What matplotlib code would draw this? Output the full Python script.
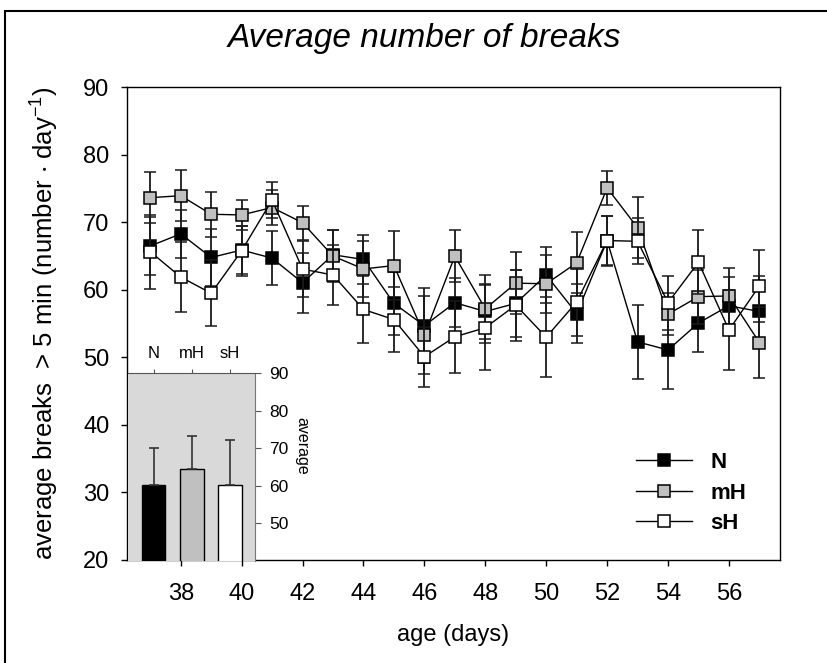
import numpy as np
import matplotlib
matplotlib.use('Agg')
import matplotlib.pyplot as plt
from matplotlib.lines import Line2D
from matplotlib.patches import Rectangle

plt.rcParams['font.family'] = ['Liberation Sans', 'DejaVu Sans']
plt.rcParams['mathtext.default'] = 'regular'

# age in days
days = np.arange(37, 58)

# mean breaks > 5 min per day and their SD, one list per group
N_mean = [66.5, 68.3, 64.8, 65.9, 64.7, 61.05, 65.2, 64.5, 58.0, 54.7, 58.1,
          56.8, 58.0, 62.2, 56.5, 67.3, 52.3, 51.1, 55.1, 57.65, 56.8]
N_sd = [4.3, 3.6, 4.2, 3.5, 4.0, 4.4, 3.6, 3.6, 4.7, 5.6, 3.6,
        4.1, 5.0, 4.2, 4.3, 3.6, 5.45, 5.85, 4.3, 4.3, 5.3]
mH_mean = [73.65, 73.95, 71.2, 71.1, 72.2, 69.94, 65.0, 63.1, 63.6, 53.3, 65.0,
           57.2, 61.0, 60.9, 64.0, 75.1, 69.2, 56.4, 59.0, 59.1, 52.2]
mH_sd = [3.75, 3.8, 3.3, 2.2, 2.6, 2.5, 3.9, 4.1, 5.1, 5.8, 3.9,
         5.0, 4.55, 4.3, 4.5, 2.5, 4.55, 3.1, 4.0, 4.2, 5.2]
sH_mean = [65.65, 61.9, 59.5, 65.8, 73.3, 63.08, 62.2, 57.1, 55.6, 50.1, 53.05,
           54.4, 57.75, 53.0, 58.2, 67.3, 67.2, 58.1, 64.1, 54.05, 60.6]
sH_sd = [5.5, 5.2, 4.9, 3.7, 2.7, 4.1, 4.5, 5.0, 4.8, 4.45, 5.3,
         6.3, 5.25, 5.9, 5.0, 3.7, 3.4, 4.0, 4.7, 5.95, 5.3]

groups = ['N', 'mH', 'sH']
avg_sd = [9.7, 8.6, 12.0]   # SD of the overall average per group

face = ['black', '#c0c0c0', 'white']
means = [N_mean, mH_mean, sH_mean]
sds = [N_sd, mH_sd, sH_sd]

fig = plt.figure(figsize=(8.28, 6.63), dpi=100)
fig.patches.append(Rectangle((0.006, -0.1), 1.2, 0.1 + 0.983, fill=False,
                             lw=1.5, ec='black', transform=fig.transFigure))

ax = fig.add_axes([0.1528, 0.1554, 0.789, 0.7129])
handles = []
for i, g in enumerate(groups):
    ax.errorbar(days, means[i], yerr=sds[i], fmt='-s', color='black', lw=1,
                ms=8.6, mfc=face[i], mec='black', mew=1.1,
                ecolor='#1a1a1a', elinewidth=1.3, capsize=4.5, capthick=1.3,
                zorder=2 + i)
    handles.append(Line2D([], [], color='black', lw=1, marker='s', ms=8.6,
                          mfc=face[i], mec='black', mew=1.1))

ax.set_xlim(36.22, 57.67)
ax.set_ylim(20, 90)
ax.set_xticks(np.arange(38, 57, 2))
ax.set_yticks(np.arange(20, 91, 10))
ax.tick_params(axis='both', direction='out', length=4.3, width=1, labelsize=17)
ax.tick_params(axis='x', pad=12)
ax.tick_params(axis='y', pad=8)
ax.tick_params(top=False, right=False)
for s in ax.spines.values():
    s.set_linewidth(1)
ax.set_xlabel('age (days)', fontsize=17, labelpad=14)
ax.set_ylabel(r'average breaks  > 5 min (number $\cdot$ day$^{-1}$)',
              fontsize=18.5, labelpad=16)

ax.legend(handles, groups, loc='upper left', bbox_to_anchor=(0.78, 0.228),
          frameon=False, borderpad=0, borderaxespad=0, handlelength=2.5,
          handletextpad=0.85, labelspacing=0.42, numpoints=1,
          prop={'weight': 'bold', 'size': 16})

fig.text(0.513, 0.942, 'Average number of breaks', ha='center', va='center',
         fontsize=24, style='italic')

# inset with the overall averages
ax_in = fig.add_axes([0.1546, 0.1538, 0.1534, 0.2836])
ax_in.set_facecolor('#d9d9d9')
pos = np.arange(1, 4)
avg = [np.mean(m) for m in means]
ax_in.bar(pos, avg, width=0.62, color=face, edgecolor='black', lw=1,
          yerr=[np.zeros(3), avg_sd], ecolor='#333333',
          error_kw={'elinewidth': 1.2, 'capsize': 3.5, 'capthick': 1.2})
ax_in.set_xlim(0.333, 3.654)
ax_in.set_ylim(40, 90)
ax_in.set_xticks(pos)
ax_in.set_xticklabels(groups)
ax_in.set_yticks([50, 60, 70, 80, 90])
ax_in.xaxis.tick_top()
ax_in.yaxis.tick_right()
ax_in.tick_params(axis='x', direction='out', length=3, pad=6, labelsize=12,
                  color='#555555')
ax_in.tick_params(axis='y', direction='out', length=4, pad=6, labelsize=12.5,
                  color='#555555')
ax_in.spines['left'].set_visible(False)
ax_in.spines['bottom'].set_visible(False)
ax_in.spines['top'].set_color('#555555')
ax_in.spines['right'].set_color('#777777')
ax_in.text(1.37, 0.615, 'average', transform=ax_in.transAxes, rotation=270,
           ha='center', va='center', fontsize=11.5)

fig.savefig('out.png', dpi=100)
